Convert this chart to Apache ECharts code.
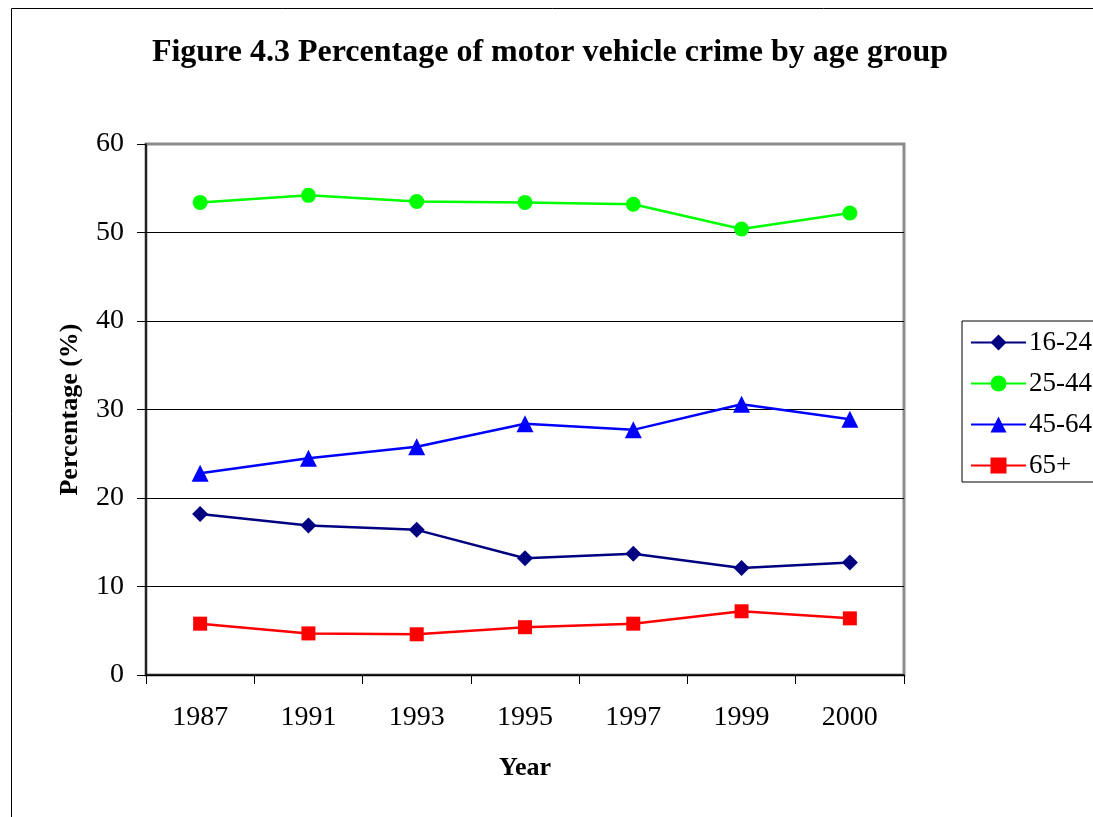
<!DOCTYPE html>
<html>
<head>
<meta charset="utf-8">
<script src="https://cdn.jsdelivr.net/npm/echarts@6/dist/echarts.min.js"></script>
<style>html,body{margin:0;padding:0;background:#fff}#c{width:1093px;height:817px}</style>
</head>
<body>
<div id="c"></div>
<script>
const years = ['1987', '1991', '1993', '1995', '1997', '1999', '2000'];
const s16_24 = [18.2, 16.9, 16.4, 13.2, 13.7, 12.1, 12.7];
const s25_44 = [53.4, 54.2, 53.5, 53.4, 53.2, 50.4, 52.2];
const s45_64 = [22.8, 24.5, 25.8, 28.4, 27.7, 30.6, 28.9];
const s65 = [5.8, 4.7, 4.6, 5.4, 5.8, 7.2, 6.4];
const seriesNames = ['16-24', '25-44', '45-64', '65+'];
const yTicks = [0, 10, 20, 30, 40, 50, 60];

const font = '"Liberation Serif", "Times New Roman", serif';
const chart = echarts.init(document.getElementById('c'));
function mk(name, data, color, symbol, size) {
  return {
    name, type: 'line', data, symbol, symbolSize: size,
    itemStyle: { color },
    lineStyle: { color, width: 2.5 },
    emphasis: { disabled: true },
    animation: false
  };
}
chart.setOption({
  animation: false,
  title: {
    text: 'Figure 4.3 Percentage of motor vehicle crime by age group',
    left: 545, top: 32, textAlign: 'center',
    textStyle: { fontFamily: font, fontSize: 32, fontWeight: 'bold', color: '#000' }
  },
  graphic: [{
    type: 'rect', shape: { x: 11.5, y: 8.5, width: 1200, height: 900 },
    style: { fill: 'none', stroke: '#000', lineWidth: 1 }, silent: true, z: -1
  }],
  legend: {
    orient: 'vertical', left: 962, top: 321,
    data: seriesNames,
    borderColor: '#000', borderWidth: 1,
    padding: [8, 40, 3, 8],
    itemWidth: 55, itemHeight: 20, itemGap: 14,
    textStyle: { fontFamily: font, fontSize: 27, color: '#000', padding: [0, 0, 0, -2] }
  },
  grid: {
    left: 146, right: 189, top: 144, bottom: 142,
    show: true, borderColor: '#8c8c8c', borderWidth: 3, backgroundColor: '#fff'
  },
  xAxis: {
    type: 'category', data: years, boundaryGap: true,
    name: 'Year', nameLocation: 'middle', nameGap: 80,
    nameTextStyle: { fontFamily: font, fontSize: 26, fontWeight: 'bold', color: '#000' },
    axisLine: { lineStyle: { color: '#000', width: 1.5 } },
    axisTick: { show: true, alignWithLabel: false, length: 9, lineStyle: { color: '#000' } },
    axisLabel: { fontFamily: font, fontSize: 28, color: '#000', margin: 29 },
    splitLine: { show: false }
  },
  yAxis: {
    type: 'value', min: 0, max: 60, interval: 10,
    name: 'Percentage (%)', nameLocation: 'middle', nameGap: 63,
    nameTextStyle: { fontFamily: font, fontSize: 26, fontWeight: 'bold', color: '#000' },
    axisLine: { show: true, lineStyle: { color: '#000', width: 1.5 } },
    axisTick: { show: true, length: 9, lineStyle: { color: '#000' } },
    axisLabel: { fontFamily: font, fontSize: 28, color: '#000', margin: 22,
      formatter: v => yTicks.includes(v) ? String(v) : '' },
    splitLine: { show: true, lineStyle: { color: ['#000', '#000', '#000', '#000', '#000', '#000', '#8c8c8c'], width: 1 } }
  },
  series: [
    mk('16-24', s16_24, '#000080', 'diamond', 16),
    mk('25-44', s25_44, '#00ff00', 'circle', 15),
    mk('45-64', s45_64, '#0000ff', 'triangle', 17),
    mk('65+', s65, '#ff0000', 'rect', 14)
  ]
});
</script>
</body>
</html>
